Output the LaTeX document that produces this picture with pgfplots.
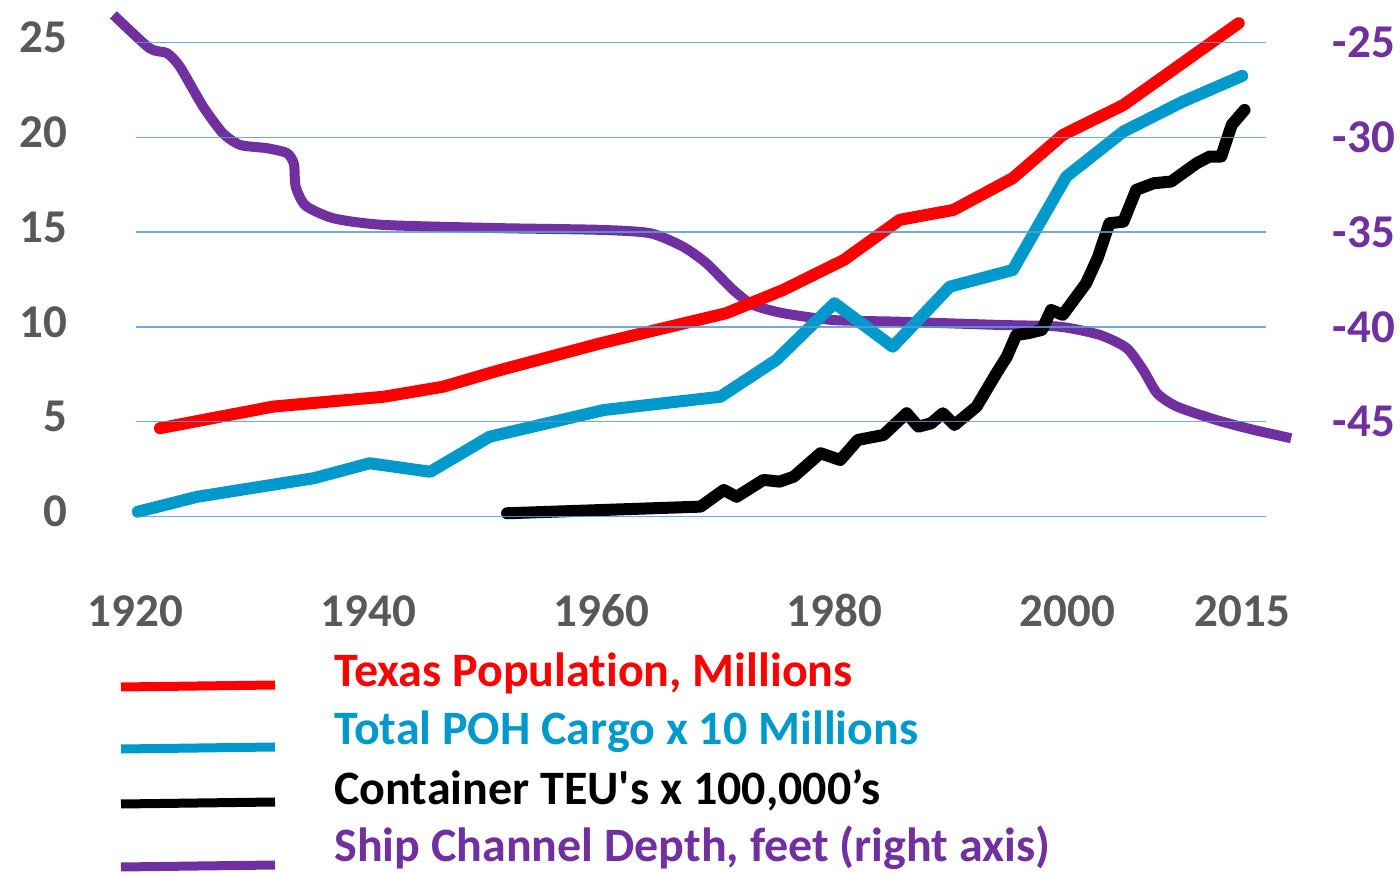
\documentclass[border=0pt]{standalone}
\usepackage{pgfplots}
\pgfplotsset{compat=1.18}
\usepackage{fontspec}
\setmainfont{Carlito}[Ligatures={TeX,NoCommon}]
\definecolor{tgray}{HTML}{595959}
\definecolor{cblue}{HTML}{0099CC}
\definecolor{cpurple}{HTML}{7030A0}
\definecolor{cred}{HTML}{FF0000}
\definecolor{gridblue}{HTML}{5B9BD5}
\pgfplotsset{common/.style={at={(67.75pt,179.85pt)}, anchor=south west, scale only axis,
  width=565pt, height=236.8pt, xmin=1920, xmax=2017, clip=false,
  axis line style={draw=none}, tick style={draw=none}}}
\begin{document}
\begin{tikzpicture}
\path[use as bounding box] (0,0) rectangle (700pt,438pt);
% right axis: ship channel depth
\begin{axis}[common, ymin=-50, ymax=-25, xtick=\empty, yticklabel pos=right,
  ytick={-45,-40,-35,-30,-25}, yticklabels={-45,-40,-35,-30,-25},
  yticklabel style={anchor=west, inner sep=0pt, xshift=33.5pt,
    font=\fontsize{23.5}{28}\selectfont\bfseries, text=cpurple}]
\addplot[cpurple, line width=5pt, smooth, tension=0.4, line cap=butt] table {
1918.1 -23.53
1921.2 -25.29
1922.7 -25.55
1923.8 -26.26
1925.8 -28.37
1927.5 -29.78
1929.0 -30.40
1931.3 -30.57
1933.0 -30.83
1933.6 -31.40
1933.75 -32.60
1934.6 -33.60
1937.0 -34.27
1941.3 -34.62
1951.3 -34.79
1959.9 -34.88
1964.2 -35.06
1967.0 -35.77
1969.0 -36.64
1971.3 -38.05
1973.0 -38.84
1975.6 -39.28
1979.9 -39.64
1985.6 -39.73
1994.2 -39.90
1999.3 -39.99
2002.8 -40.43
2005.1 -41.13
2006.5 -42.28
2007.7 -43.51
2009.4 -44.21
2012.8 -44.92
2016.0 -45.44
2019.2 -45.88
};
\end{axis}
% left axis
\begin{axis}[common, ymin=0, ymax=25, ytick={0,5,10,15,20,25}, yticklabels={0,5,10,15,20,25},
  ymajorgrids, grid style={gridblue, line width=0.75pt, opacity=0.85}, axis on top,
  xtick={1920,1940,1960,1980,2000,2015}, xticklabels={1920,1940,1960,1980,2000,2015},
  yticklabel style={anchor=east, inner sep=0pt, xshift=-33.75pt, yshift=2.5pt,
    font=\fontsize{23.5}{28}\selectfont\bfseries, text=tgray},
  xticklabel style={anchor=base, inner sep=0pt, yshift=-55.35pt,
    font=\fontsize{23.5}{28}\selectfont\bfseries, text=tgray}]
\addplot[cblue, line width=6pt, line cap=round, line join=round] table {
1920.2 0.24
1925.3 1.03
1935.3 2.01
1940.1 2.80
1945.3 2.35
1950.4 4.20
1960.2 5.61
1970.2 6.31
1975.0 8.25
1980.0 11.25
1985.0 8.95
1989.9 12.12
1995.3 13.00
1999.9 17.93
2004.8 20.31
2009.9 21.89
2015.0 23.25
};
\addplot[cred, line width=6pt, line cap=round, line join=round] table {
1922.1 4.65
1931.8 5.79
1941.3 6.31
1946.4 6.84
1951.3 7.72
1959.9 9.13
1970.7 10.72
1975.6 11.95
1980.8 13.53
1985.6 15.65
1990.2 16.17
1995.3 17.85
1999.6 20.13
2004.8 21.71
2014.7 26.03
};
\addplot[black, line width=6pt, line cap=round, line join=round] table {
1951.9 0.16
1968.5 0.51
1970.5 1.39
1971.6 1.03
1973.9 1.92
1975.3 1.83
1976.5 2.09
1978.8 3.33
1980.5 2.97
1982.0 4.03
1984.2 4.29
1986.2 5.44
1987.2 4.73
1988.3 4.91
1989.3 5.44
1990.3 4.82
1992.2 5.79
1993.9 7.55
1994.8 8.43
1995.6 9.57
1996.6 9.66
1997.8 9.84
1998.6 10.89
1999.6 10.63
2001.6 12.30
2002.6 13.65
2003.6 15.47
2004.8 15.55
2005.9 17.23
2007.4 17.58
2008.9 17.67
2011.1 18.64
2012.2 18.99
2013.2 18.99
2014.1 20.66
2015.2 21.45
};
\end{axis}
% legend
\draw[cred, line width=4.5pt] (60.5pt,94.5pt) -- (137.5pt,95.5pt);
\draw[cblue, line width=4.5pt] (60.5pt,63.5pt) -- (137.5pt,64.5pt);
\draw[black, line width=4.5pt] (60.5pt,36pt) -- (137.5pt,37pt);
\draw[cpurple, line width=4.5pt] (60.5pt,4.5pt) -- (137.5pt,5.5pt);
\begin{scope}[every node/.style={anchor=base west, inner sep=0pt, font=\fontsize{24}{28}\selectfont\bfseries}]
\node[text=cred] at (167pt,94.5pt) {Texas Population, Millions};
\node[text=cblue] at (167pt,65.5pt) {Total POH Cargo x 10 Millions};
\node[text=black] at (167pt,35.5pt) {Container TEU\textquotesingle s x 100,000’s};
\node[text=cpurple] at (167pt,7pt) {Ship Channel Depth, feet (right axis)};
\end{scope}
\end{tikzpicture}
\end{document}
